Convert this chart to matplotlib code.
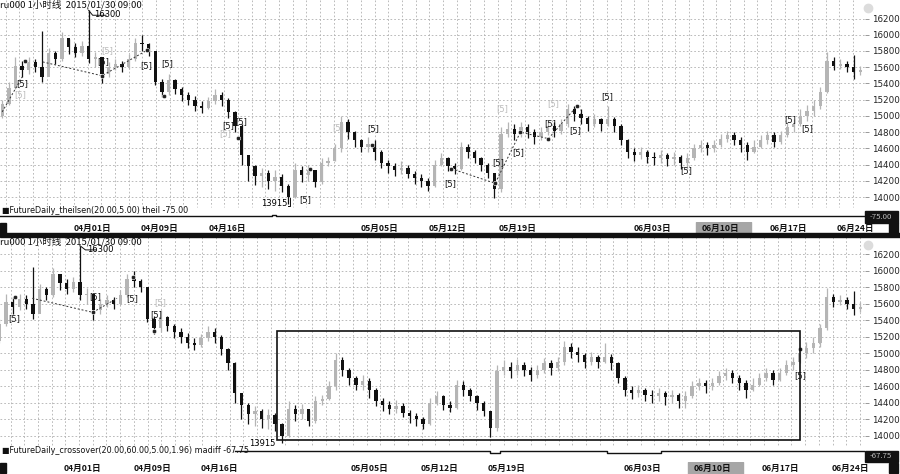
"""Redraw of a two-panel ru000 hourly candlestick screen (theilsen / crossover)."""

import matplotlib
matplotlib.use("Agg")
import matplotlib.pyplot as plt
from matplotlib.lines import Line2D
from matplotlib.patches import Rectangle

plt.rcParams["font.family"] = ["Noto Sans CJK SC", "DejaVu Sans"]

# ---- price data: one candle per half trading day, open = previous close ----
first_open = 15000
closes = [15150, 15350, 15620, 15560, 15660, 15600, 15480, 15780, 15700, 15960,
          15850, 15780, 15860, 15700, 15720, 15520, 15600, 15640, 15600, 15700,
          15900, 15880, 15800, 15420, 15300, 15440, 15330, 15260, 15200, 15120,
          15100, 15180, 15260, 15200, 15050, 14880, 14520, 14380, 14260, 14300,
          14200, 14250, 14140, 14000, 14330, 14270, 14330, 14180, 14420, 14450,
          14600, 14920, 14800, 14700, 14620, 14660, 14560, 14420, 14380, 14330,
          14360, 14280, 14240, 14200, 14140, 14400, 14480, 14380, 14340, 14620,
          14560, 14480, 14400, 14300, 14100, 14780, 14840, 14780, 14860, 14800,
          14740, 14800, 14880, 14820, 14900, 15080, 15020, 14980, 14900, 14960,
          14900, 14960, 14880, 14700, 14560, 14520, 14560, 14500, 14480, 14520,
          14470, 14500, 14420, 14480, 14600, 14640, 14600, 14640, 14720, 14760,
          14700, 14640, 14560, 14620, 14700, 14760, 14680, 14760, 14860, 14900,
          15000, 15060, 15120, 15300, 15680, 15620, 15640, 15600, 15540, 15560]
highs = [15200, 15420, 15720, 15680, 15720, 15700, 16040, 15840, 15800, 16030,
         15950, 15900, 15920, 16300, 15790, 15650, 15660, 15700, 15680, 15760,
         15960, 16000, 15900, 15800, 15450, 15520, 15450, 15360, 15300, 15240,
         15180, 15230, 15330, 15300, 15220, 15060, 14900, 14520, 14400, 14360,
         14330, 14330, 14280, 14160, 14420, 14380, 14390, 14310, 14480, 14500,
         14660, 15000, 14960, 14820, 14720, 14740, 14700, 14580, 14460, 14420,
         14440, 14400, 14320, 14280, 14230, 14460, 14540, 14500, 14420, 14680,
         14660, 14580, 14500, 14420, 14300, 14860, 14920, 14900, 14930, 14900,
         14840, 14860, 14940, 14920, 14960, 15150, 15120, 15080, 15000, 15020,
         14980, 15120, 14990, 14900, 14720, 14600, 14620, 14580, 14560, 14580,
         14540, 14560, 14520, 14540, 14660, 14700, 14680, 14700, 14780, 14820,
         14800, 14740, 14680, 14700, 14760, 14820, 14800, 14820, 14920, 14960,
         15080, 15140, 15200, 15360, 15790, 15720, 15700, 15680, 15750, 15620]
lows = [14980, 15130, 15330, 15480, 15520, 15540, 15420, 15620, 15640, 15680,
        15760, 15720, 15740, 15650, 15600, 15400, 15480, 15560, 15540, 15580,
        15680, 15800, 15740, 15380, 15230, 15260, 15270, 15180, 15130, 15060,
        15040, 15080, 15150, 15120, 14980, 14800, 14400, 14200, 14150, 14120,
        14100, 14080, 14060, 13915, 13990, 14180, 14200, 14120, 14160, 14380,
        14440, 14560, 14720, 14620, 14560, 14560, 14460, 14360, 14300, 14260,
        14280, 14230, 14160, 14120, 14080, 14130, 14380, 14320, 14290, 14330,
        14480, 14420, 14320, 14240, 13990, 14060, 14740, 14700, 14740, 14730,
        14660, 14700, 14760, 14740, 14780, 14860, 14940, 14900, 14820, 14860,
        14820, 14880, 14800, 14640, 14480, 14450, 14470, 14420, 14400, 14420,
        14380, 14400, 14340, 14340, 14460, 14560, 14520, 14560, 14620, 14680,
        14640, 14560, 14460, 14540, 14600, 14660, 14620, 14660, 14740, 14800,
        14880, 14940, 15000, 15080, 15280, 15560, 15580, 15540, 15460, 15500]

price_ticks = [14000, 14200, 14400, 14600, 14800, 15000, 15200, 15400, 15600, 15800, 16000, 16200]
date_labels = ["04月01日", "04月09日", "04月16日", "05月05日", "05月12日",
               "05月19日", "06月03日", "06月10日", "06月17日", "06月24日"]
date_top = [13.5, 23.6, 33.8, 56.7, 66.9, 77.4, 97.7, 107.9, 118.2, 128.2]
date_bottom = [13.3, 23.7, 33.7, 56.1, 66.5, 76.4, 96.6, 107.0, 117.1, 127.5]

# signal annotations (bar index, price)
sig_top_k = [3.0, 15.2, 21.6, 24.8, 34.0, 36.0, 45.5, 55.8, 67.3, 74.6, 77.6, 82.4, 86.1, 91.0, 102.8, 118.5, 121.0]
sig_top_p = [15400, 15665, 15615, 15640, 14875, 14935, 13965, 14840, 14170, 14425, 14550, 14910, 14815, 15240, 14330, 14960, 14840]
sig_top_grey_k = [2.7, 15.8, 33.5, 50.5, 75.2, 82.8]
sig_top_grey_p = [15265, 15810, 14780, 14850, 15095, 15155]
pivot_top_k = [3.4, 15.0, 21.8, 24.3, 35.5, 46.3, 55.6, 67.5, 74.1, 77.9, 82.1, 86.4]
pivot_top_p = [15680, 15495, 15810, 15240, 14730, 14350, 14645, 14350, 14170, 14800, 14720, 15120]
zig_top = [([0.0, 3.0], [15050, 15480]),
           ([6.1, 15.0, 21.8], [15665, 15495, 15810]),
           ([67.5, 74.1, 77.9, 82.1, 86.4], [14350, 14170, 14800, 14720, 15120])]

sig_bot_k = [3.2, 15.2, 20.7, 24.3, 120.0]
sig_bot_p = [15420, 15680, 15665, 15470, 14730]
sig_bot_grey_k = [24.9]
sig_bot_grey_p = [15615]
pivot_bot_k = [3.3, 14.9, 20.9, 24.0, 120.0]
pivot_bot_p = [15680, 15495, 15920, 15275, 15050]
zig_bot = [([5.9, 14.9, 18.5], [15665, 15495, 15665])]

box_k = [42.3, 120.1]
box_p = [13952, 15264]

theil_k = [-0.3, 40.0, 40.6, 41.2, 129.7]
theil_v = [-75.0, -75.0, -70.0, -75.0, -75.0]
madiff_k = [36.0, 74.0, 75.5, 91.4, 99.3, 129.7]
madiff_v = [-60.0, -66.0, -60.0, -66.0, -60.0, -60.0]

W, H = 900, 474
fig = plt.figure(figsize=(W / 100, H / 100), dpi=100)


def box(x0, y0, x1, y1):
    return [x0 / W, 1 - y1 / H, (x1 - x0) / W, (y1 - y0) / H]


def fig_line(x0, y0, x1, y1, **kw):
    fig.add_artist(Line2D([x0 / W, x1 / W], [1 - y0 / H, 1 - y1 / H], transform=fig.transFigure, **kw))


def fig_rect(x0, y0, x1, y1, **kw):
    fig.add_artist(Rectangle((x0 / W, 1 - y1 / H), (x1 - x0) / W, (y1 - y0) / H, transform=fig.transFigure, **kw))


def draw_candles(ax):
    prev = first_open
    for k, (c, hi, lo) in enumerate(zip(closes, highs, lows)):
        col = "#b5b5b5" if c >= prev else "#111111"
        ax.vlines(k, lo, hi, color=col, lw=0.9, zorder=3)
        ax.bar(k, max(abs(c - prev), 12), bottom=min(c, prev), width=0.5, color=col, zorder=3, linewidth=0)
        prev = c


def price_panel(rect, xlim, ylim, grid_x0, grid_step):
    ax = fig.add_axes(box(*rect))
    ax.set_facecolor("none")
    ax.set_xlim(*xlim)
    ax.set_ylim(*ylim)
    for s in ax.spines.values():
        s.set_visible(False)
    ax.set_xticks([])
    ax.yaxis.tick_right()
    ax.set_yticks(price_ticks)
    ax.set_yticklabels([str(t) for t in price_ticks], fontsize=6.3, color="#222222", family=["DejaVu Sans"])
    ax.tick_params(axis="y", length=3, width=0.6, color="#888888", pad=2)
    for t in price_ticks:
        ax.axhline(t, color="#b0b0b0", lw=0.6, ls=(0, (2, 2.5)), zorder=1)
    # vertical dotted grid, one line per trading-day column
    x = grid_x0
    while x > 0:
        x -= grid_step
    x += grid_step
    while x < rect[2]:
        fig_line(x, rect[1], x, rect[3], color="#b0b0b0", lw=0.6, ls=(0, (2, 2.5)), zorder=0)
        x += grid_step
    draw_candles(ax)
    ax.text(0.5 / 865, 1 - 5 / (rect[3] - rect[1]), "ru000 1小时线  2015/01/30 09:00",
            transform=ax.transAxes, fontsize=6.8, va="center", ha="left", color="#111111", zorder=6)
    fig.add_artist(Line2D([868 / W], [1 - (rect[1] + 8) / H], marker="o", ms=6, color="#dcdcdc",
                          transform=fig.transFigure))
    return ax


def signals(ax, ks, ps, grey_ks, grey_ps, piv_k, piv_p, zigs):
    for xs, ys in zigs:
        ax.plot(xs, ys, color="#333333", lw=0.7, ls=(0, (2, 2)), zorder=4)
    ax.scatter(piv_k, piv_p, s=10, facecolor="#222222", edgecolor="white", linewidth=0.4, zorder=5)
    for k, p in zip(ks, ps):
        ax.text(k, p, "[5]", fontsize=6, ha="center", va="center", color="#111111", zorder=6,
                family=["DejaVu Sans"])
    for k, p in zip(grey_ks, grey_ps):
        ax.text(k, p, "[5]", fontsize=6, ha="center", va="center", color="#bbbbbb", zorder=6,
                family=["DejaVu Sans"])


def strip(rect, xlim, label, ks, vs, value):
    ax = fig.add_axes(box(*rect))
    ax.set_xlim(*xlim)
    ax.set_ylim(-90, -50)
    ax.axis("off")
    ax.plot(ks, vs, color="#111111", lw=1.0, drawstyle="steps-post")
    ax.text(2 / 865, 0.75, label, transform=ax.transAxes, fontsize=5.8, va="center", ha="left",
            color="#111111", family=["DejaVu Sans", "Noto Sans CJK SC"])
    fig_rect(865, rect[1] + 4, 898, rect[3] + 1, color="#111111", zorder=5)
    fig.text(881 / W, 1 - (rect[1] + rect[3] + 5) / 2 / H, value, fontsize=5.6, color="#bbbbbb",
             ha="center", va="center", zorder=6)


def date_strip(y0, y1, xlim, positions):
    ax = fig.add_axes(box(0, y0, 865, y1))
    ax.set_xlim(*xlim)
    ax.set_ylim(0, 1)
    ax.axis("off")
    for lab, k in zip(date_labels, positions):
        if lab == "06月10日":
            ax.add_patch(Rectangle((k - 3.6, 0.02), 8.2, 0.96, color="#a6a6a6", zorder=1))
        ax.text(k, 0.5, lab, fontsize=6.2, fontweight="bold", ha="center", va="center", color="#111111", zorder=2)
    fig_rect(0, y0 + 1, 6, y1 - 1, color="#111111")
    fig_rect(889, y0 + 1, 898, y1 - 1, color="#111111")
    return ax


# ---- top panel ----
top_xlim = (-0.33, 129.7)
ax1 = price_panel((0, 0, 865, 207), top_xlim, (13878, 16428), 607, 13.67)
signals(ax1, sig_top_k, sig_top_p, sig_top_grey_k, sig_top_grey_p, pivot_top_k, pivot_top_p, zig_top)
ax1.plot([13, 13.6, 15.6], [16300, 16240, 16240], color="#111111", lw=0.7, zorder=6)
ax1.text(13.8, 16245, "16300", fontsize=6, ha="left", va="center", family=["DejaVu Sans"], zorder=6)
ax1.plot([42.9, 43.3, 43.3], [13890, 13890, 13990], color="#111111", lw=0.7, zorder=6)
ax1.text(42.9, 13915, "13915", fontsize=6, ha="right", va="center", family=["DejaVu Sans"], zorder=6)

strip((0, 207, 865, 222), top_xlim, "■FutureDaily_theilsen(20.00,5.00) theil -75.00", theil_k, theil_v, "-75.00")
date_strip(222, 234, top_xlim, date_top)
fig_rect(0, 233, 900, 236.5, color="#111111")

# ---- bottom panel ----
bot_xlim = (1.1, 129.7)
ax2 = price_panel((0, 237, 865, 447), bot_xlim, (13867, 16406), 860, 13.7)
signals(ax2, sig_bot_k, sig_bot_p, sig_bot_grey_k, sig_bot_grey_p, pivot_bot_k, pivot_bot_p, zig_bot)
ax2.plot([13, 13.8, 15.4], [16300, 16250, 16250], color="#111111", lw=0.7, zorder=6)
ax2.text(14.0, 16250, "16300", fontsize=6, ha="left", va="center", family=["DejaVu Sans"], zorder=6)
ax2.text(42.0, 13915, "13915", fontsize=6, ha="right", va="center", family=["DejaVu Sans"], zorder=6)
ax2.add_patch(Rectangle((box_k[0], box_p[0]), box_k[1] - box_k[0], box_p[1] - box_p[0],
                        fill=False, edgecolor="#111111", lw=1.2, zorder=7))

strip((0, 447, 865, 461), bot_xlim, "■FutureDaily_crossover(20.00,60.00,5.00,1.96) madiff -67.75",
      madiff_k, madiff_v, "-67.75")
date_strip(462, 474, bot_xlim, date_bottom)

fig.savefig("out.png", dpi=100, facecolor="white")
